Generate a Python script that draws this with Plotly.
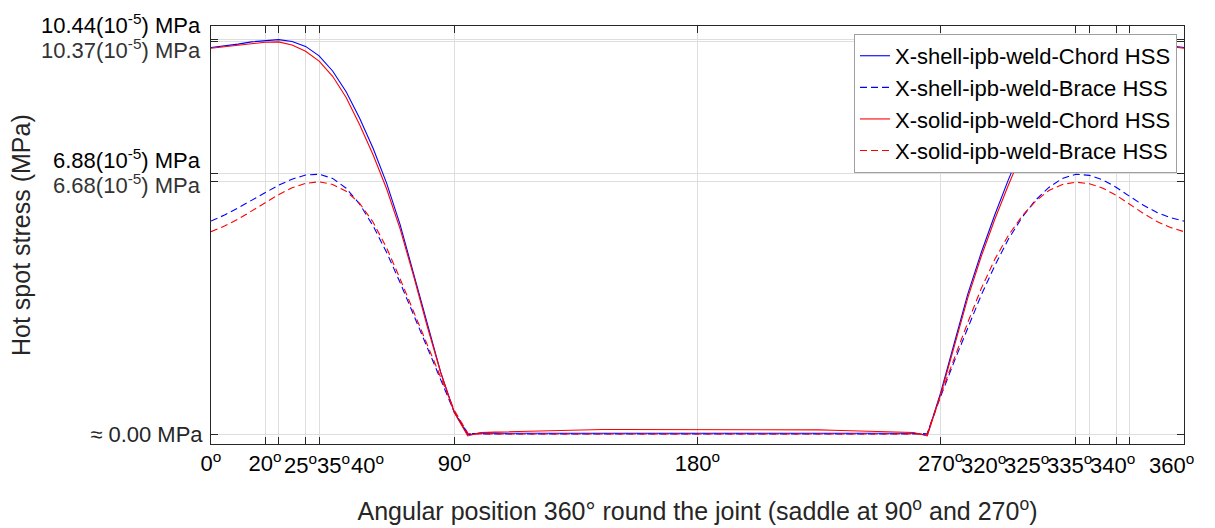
import plotly.graph_objects as go

# ---------------- data ----------------
angles = list(range(0, 361, 5))

shell_chord = [
    10.22, 10.26, 10.31, 10.37, 10.41, 10.43, 10.38, 10.25, 10.00, 9.60,
    9.05, 8.35, 7.55, 6.63, 5.53, 4.23, 2.88, 1.63, 0.58, -0.02,
    0.03, 0.02, 0.02, 0.02, 0.02, 0.02, 0.02, 0.02, 0.02, 0.02,
    0.02, 0.02, 0.02, 0.02, 0.02, 0.02, 0.02,
    0.02, 0.02, 0.02, 0.02, 0.02, 0.02, 0.02, 0.02, 0.02, 0.02,
    0.02, 0.02, 0.02, 0.02, 0.02, 0.02, -0.03, 1.10, 2.40, 3.70,
    4.80, 5.80, 6.72, 7.58, 8.35, 9.00, 9.55, 9.98, 10.24, 10.38,
    10.43, 10.41, 10.37, 10.31, 10.26, 10.22,
]
shell_brace = [
    5.63, 5.79, 5.98, 6.18, 6.39, 6.58, 6.74, 6.85, 6.87, 6.76,
    6.50, 6.08, 5.50, 4.80, 4.00, 3.15, 2.28, 1.40, 0.58, 0.02,
    0.00, 0.00, 0.00, 0.00, 0.00, 0.00, 0.00, 0.00, 0.00, 0.00,
    0.00, 0.00, 0.00, 0.00, 0.00, 0.00, 0.00,
    0.00, 0.00, 0.00, 0.00, 0.00, 0.00, 0.00, 0.00, 0.00, 0.00,
    0.00, 0.00, 0.00, 0.00, 0.00, 0.00, 0.02, 1.00, 1.92, 2.82,
    3.68, 4.45, 5.15, 5.72, 6.18, 6.52, 6.76, 6.87, 6.84, 6.72,
    6.52, 6.28, 6.05, 5.86, 5.72, 5.63,
]
solid_chord = [
    10.20, 10.24, 10.29, 10.33, 10.36, 10.37, 10.29, 10.12, 9.86, 9.46,
    8.90, 8.18, 7.38, 6.48, 5.42, 4.17, 2.85, 1.62, 0.57, -0.05,
    0.04, 0.05, 0.06, 0.07, 0.08, 0.09, 0.10, 0.11, 0.12, 0.12,
    0.12, 0.12, 0.12, 0.12, 0.12, 0.12, 0.12,
    0.12, 0.12, 0.12, 0.12, 0.12, 0.12, 0.12, 0.12, 0.11, 0.10,
    0.09, 0.08, 0.07, 0.06, 0.05, 0.04, -0.05, 1.05, 2.32, 3.60,
    4.70, 5.68, 6.58, 7.42, 8.18, 8.84, 9.41, 9.84, 10.09, 10.30,
    10.37, 10.36, 10.33, 10.29, 10.24, 10.20,
]
solid_brace = [
    5.35, 5.50, 5.68, 5.90, 6.12, 6.33, 6.51, 6.63, 6.67, 6.60,
    6.42, 6.10, 5.60, 4.92, 4.10, 3.24, 2.36, 1.48, 0.63, 0.02,
    0.00, 0.00, 0.00, 0.00, 0.00, 0.00, 0.00, 0.00, 0.00, 0.00,
    0.00, 0.00, 0.00, 0.00, 0.00, 0.00, 0.00,
    0.00, 0.00, 0.00, 0.00, 0.00, 0.00, 0.00, 0.00, 0.00, 0.00,
    0.00, 0.00, 0.00, 0.00, 0.00, 0.00, 0.00, 1.05, 2.02, 2.95,
    3.85, 4.62, 5.25, 5.76, 6.15, 6.44, 6.60, 6.66, 6.62, 6.50,
    6.31, 6.07, 5.83, 5.62, 5.46, 5.35,
]

series_names = [
    "X-shell-ipb-weld-Chord HSS",
    "X-shell-ipb-weld-Brace HSS",
    "X-solid-ipb-weld-Chord HSS",
    "X-solid-ipb-weld-Brace HSS",
]

x_tick_vals = [0, 20, 25, 35, 40, 90, 180, 270, 320, 325, 335, 340, 360]
x_tick_labels = ["0", "20", "25", "35", "40", "90", "180", "270",
                 "320", "325", "335", "340", "360"]
# sideways displacement (px) of each x tick label in the original figure
x_label_shift_px = [0, 0, 22, 28, 48, 0, 0, 0, -92, -63, -47, -17, -13]

y_tick_vals = [0.0, 6.68, 6.88, 10.37, 10.44]
y_tick_labels = ["\u2248 0.00 MPa", "6.68(10<sup>-5</sup>) MPa", "6.88(10<sup>-5</sup>) MPa",
                 "10.37(10<sup>-5</sup>) MPa", "10.44(10<sup>-5</sup>) MPa"]
# vertical displacement (px) of each y tick label, and its colour
y_label_shift_px = [0, -3, 15, -7, 15]
y_label_color = ["#262626", "#333333", "#000000", "#333333", "#000000"]

# ---------------- figure ----------------
FONT = "Liberation Sans, Arial, Helvetica, sans-serif"
TXT = "#262626"

fig = go.Figure()
styles = [
    dict(color="#0000ff", dash="solid"),
    dict(color="#0000ff", dash="7px,4px"),
    dict(color="#ff0000", dash="solid"),
    dict(color="#ff0000", dash="7px,4px"),
]
for name, ys, st in zip(series_names, [shell_chord, shell_brace, solid_chord, solid_brace], styles):
    fig.add_trace(go.Scatter(x=angles, y=ys, mode="lines", name=name,
                             line=dict(color=st["color"], dash=st["dash"], width=1.1)))

xtext = [(f"{lab}<sup>o</sup>" if sh == 0 else "") for lab, sh in zip(x_tick_labels, x_label_shift_px)]
ytext = [(lab if sh == 0 else "") for lab, sh in zip(y_tick_labels, y_label_shift_px)]

annotations = []
for v, lab, sh in zip(x_tick_vals, x_tick_labels, x_label_shift_px):
    if sh != 0:
        annotations.append(dict(x=v, xref="x", y=0, yref="paper", yanchor="top",
                                xanchor="center", xshift=sh, yshift=-4,
                                text=f"{lab}<sup>o</sup>", showarrow=False,
                                font=dict(family=FONT, size=22, color="#000000")))
for v, lab, sh, col in zip(y_tick_vals, y_tick_labels, y_label_shift_px, y_label_color):
    if sh != 0:
        annotations.append(dict(x=0, xref="paper", y=v, yref="y", xanchor="right",
                                yanchor="middle", xshift=-8, yshift=sh, text=lab,
                                showarrow=False,
                                font=dict(family=FONT, size=22, color=col)))
# y-axis title
annotations.append(dict(x=0, xref="paper", y=0.5, yref="paper", xanchor="center",
                        yanchor="middle", xshift=-190, textangle=-90,
                        text="Hot spot stress (MPa)", showarrow=False,
                        font=dict(family=FONT, size=25, color=TXT)))

fig.update_layout(
    width=1215, height=528,
    margin=dict(l=211, r=31, t=26, b=84),
    paper_bgcolor="white", plot_bgcolor="white",
    font=dict(family=FONT, size=22, color=TXT),
    showlegend=True,
    legend=dict(x=0.9928, y=0.981, xanchor="right", yanchor="top",
                bgcolor="white", bordercolor="#a0a0a0", borderwidth=1,
                font=dict(family=FONT, size=22, color="#000000"),
                tracegroupgap=0, itemwidth=30),
    annotations=annotations,
)
fig.update_xaxes(
    range=[0, 360], tickmode="array", tickvals=x_tick_vals, ticktext=xtext,
    ticks="inside", ticklen=7, tickcolor=TXT, tickangle=0,
    showline=True, linecolor=TXT, linewidth=1, mirror="ticks",
    showgrid=True, gridcolor="#dedede", gridwidth=1, zeroline=False,
    tickfont=dict(family=FONT, size=22, color="#000000"),
    title=dict(text="Angular position 360\u00b0 round the joint (saddle at 90<sup>o</sup> and 270<sup>o</sup>)",
               font=dict(family=FONT, size=25, color=TXT), standoff=27),
    automargin=False,
)
fig.update_yaxes(
    range=[-0.264, 10.79], tickmode="array", tickvals=y_tick_vals, ticktext=ytext,
    ticks="inside", ticklen=7, tickcolor=TXT,
    showline=True, linecolor=TXT, linewidth=1, mirror="ticks",
    showgrid=True, gridcolor="#dedede", gridwidth=1, zeroline=False,
    tickfont=dict(family=FONT, size=22, color=TXT),
    ticklabelstandoff=3,
    automargin=False,
)

fig.write_html("out.html")
